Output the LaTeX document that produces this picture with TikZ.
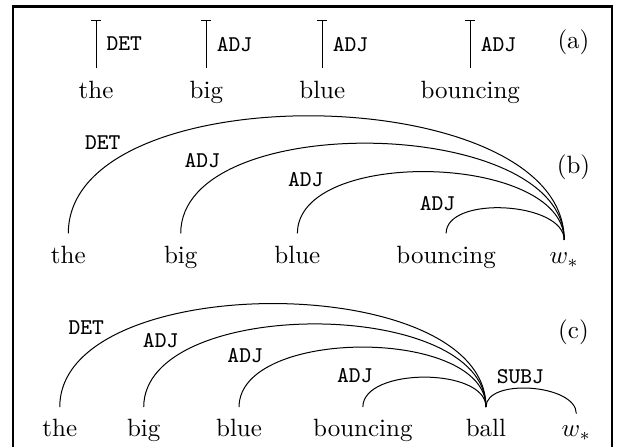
\documentclass[tikz,border=0pt]{standalone}
\usepackage{amsmath,amssymb}
\usepackage{tikz}
\usetikzlibrary{arrows,arrows.meta}

\begin{document}
\begin{tikzpicture}[
word/.style={anchor=base, inner sep=4.8pt},
deplabel/.style={font=\ttfamily\small, inner sep=1.5pt},
dep/.style={line width=0.4pt, looseness=0.83},
root/.style={-{Bar[width=4pt]}, line width=0.4pt} ]

\useasboundingbox (0,0) rectangle (8.70,-6.27);

\draw[line width=1pt] (0.18,-0.09) rectangle (8.60,-6.6);

% (a) root edges
\coordinate (top) at (0,-0.28);

\node[word] (theA) at (1.35,-1.38) {the};

\node[word] (bigA) at (2.90,-1.38) {big};

\node[word] (blueA) at (4.53,-1.38) {blue};

\node[word] (bouncingA) at (6.61,-1.38) {bouncing};

\node (tagA) at (8.06,-0.59) {(a)};

\draw[root] (theA) -- node[right=2.5pt, deplabel] {DET} (theA |- top);

\draw[root] (bigA) -- node[right=2.5pt, deplabel] {ADJ} (bigA |- top);

\draw[root] (blueA) -- node[right=2.5pt, deplabel] {ADJ} (blueA |- top);

\draw[root] (bouncingA) -- node[right=2.5pt, deplabel] {ADJ} (bouncingA |- top);

% (b) all heads on w_*
\node[word] (theB) at (0.96,-3.70) {the};

\node[word] (bigB) at (2.54,-3.70) {big};

\node[word] (blueB) at (4.18,-3.70) {blue};

\node[word] (bouncingB) at (6.27,-3.70) {bouncing};

\node[word] (wB) at (7.93,-3.70) {$w_*$};

\node (tagB) at (8.06,-2.35) {(b)};

\draw[dep] (theB) to[out=90,in=90] node[deplabel, pos=0.21, above left] {DET} (wB);

\draw[dep] (bigB) to[out=90,in=90] node[deplabel, pos=0.21, above left] {ADJ} (wB);

\draw[dep] (blueB) to[out=90,in=90] node[deplabel, pos=0.21, above left] {ADJ} (wB);

\draw[dep] (bouncingB) to[out=90,in=90] node[deplabel, pos=0.21, above left] {ADJ} (wB);

% (c) heads on ball
\node[word] (theC) at (0.84,-6.14) {the};

\node[word] (bigC) at (2.02,-6.14) {big};

\node[word] (blueC) at (3.36,-6.14) {blue};

\node[word] (bouncingC) at (5.10,-6.14) {bouncing};

\node[word] (ballC) at (6.83,-6.14) {ball};

\node[word] (wC) at (8.10,-6.14) {$w_*$};

\node (tagC) at (8.06,-4.67) {(c)};

\draw[dep] (theC) to[out=90,in=90] node[deplabel, pos=0.21, above left] {DET} (ballC);

\draw[dep] (bigC) to[out=90,in=90] node[deplabel, pos=0.21, above left] {ADJ} (ballC);

\draw[dep] (blueC) to[out=90,in=90] node[deplabel, pos=0.21, above left] {ADJ} (ballC);

\draw[dep] (bouncingC) to[out=90,in=90] node[deplabel, pos=0.21, above left] {ADJ} (ballC);

\draw[dep] (ballC) to[out=90,in=90] node[deplabel, pos=0.42, above] {SUBJ} (wC);

\end{tikzpicture}
\end{document}
